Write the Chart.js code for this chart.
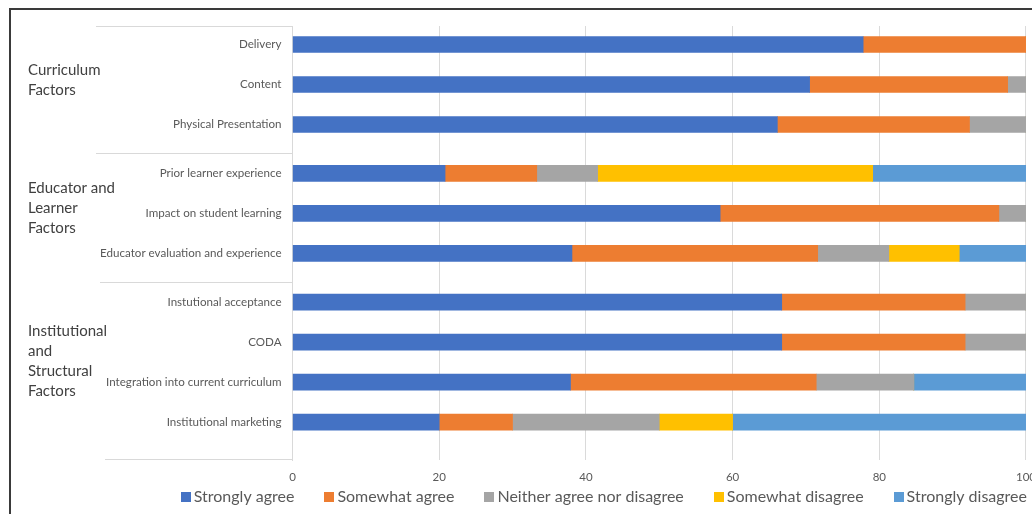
<!DOCTYPE html>
<html>
<head>
<meta charset="utf-8">
<script src="https://cdn.jsdelivr.net/npm/chart.js@4.4.1/dist/chart.umd.min.js"></script>
<style>
  html, body { margin: 0; padding: 0; background: #ffffff; overflow: hidden; width: 1032px; height: 514px; }
  #c { display: block; }
</style>
</head>
<body>
<canvas id="c" width="1046" height="514"></canvas>
<script>
// Factor groups (line breaks mark wrapped label lines) and how many items each holds
const groups = ['Curriculum\nFactors', 'Educator and\nLearner\nFactors', 'Institutional\nand\nStructural\nFactors'];
const groupSizes = [3, 3, 4];

// Survey items, top to bottom
const categories = [
  'Delivery',
  'Content',
  'Physical Presentation',
  'Prior learner experience',
  'Impact on student learning',
  'Educator evaluation and experience',
  'Instutional acceptance',
  'CODA',
  'Integration into current curriculum',
  'Institutional marketing'
];

// Response shares (%) per item
const seriesNames = ['Strongly agree', 'Somewhat agree', 'Neither agree nor disagree', 'Somewhat disagree', 'Strongly disagree'];
const stronglyAgree    = [77.8, 70.5, 66.1, 20.8, 58.3, 38.1, 66.7, 66.7, 37.9, 20.0];
const somewhatAgree    = [22.2, 27.0, 26.2, 12.5, 38.0, 33.5, 25.0, 25.0, 33.5, 10.0];
const neitherAgree     = [ 0.0,  2.5,  7.7,  8.3,  3.7,  9.7,  8.3,  8.3, 13.3, 20.0];
const somewhatDisagree = [ 0.0,  0.0,  0.0, 37.5,  0.0,  9.6,  0.0,  0.0,  0.0, 10.0];
const stronglyDisagree = [ 0.0,  0.0,  0.0, 20.9,  0.0,  9.1,  0.0,  0.0, 15.3, 40.0];

const xTickValues = [0, 20, 40, 60, 80, 100];

const seriesValues = [stronglyAgree, somewhatAgree, neitherAgree, somewhatDisagree, stronglyDisagree];
const seriesColors = ['#4472C4', '#ED7D31', '#A5A5A5', '#FFC000', '#5B9BD5'];

// Row positions on the item axis: one unit per item, plus a small gap between groups
const GROUP_GAP = 0.22;
const rowPos = [];
const groupRows = [];
(function () {
  let i = 0;
  groupSizes.forEach((n, g) => {
    const rows = [];
    for (let k = 0; k < n; k++) {
      const p = i + g * GROUP_GAP;
      rowPos.push(p);
      rows.push(p);
      i++;
    }
    groupRows.push(rows);
  });
})();

const FONT = 'Lato, "Open Sans", sans-serif';

// Left-hand group labels, separators and the outer frame
const groupPanel = {
  id: 'groupPanel',
  afterDraw(chart) {
    const { ctx, chartArea } = chart;
    const y = chart.scales.y;
    const axisX = chartArea.left;
    ctx.save();

    // band edges of each group: chart top, the in-between separators, chart bottom
    const edges = [chartArea.top];
    groupRows.forEach((rows, g) => {
      if (g < groupRows.length - 1) {
        edges.push(Math.round(y.getPixelForValue(rows[rows.length - 1] + 0.5 + GROUP_GAP)));
      }
    });
    edges.push(chartArea.bottom - 1);

    // separators
    ctx.strokeStyle = '#d9d9d9';
    ctx.lineWidth = 1;
    const sepStart = [96, 96, 100, 105];
    edges.forEach((py, k) => {
      ctx.beginPath();
      ctx.moveTo(sepStart[k], Math.round(py) + 0.5);
      ctx.lineTo(axisX, Math.round(py) + 0.5);
      ctx.stroke();
    });

    // group titles, set a little above the middle of their band
    ctx.fillStyle = '#404040';
    ctx.font = '15px ' + FONT;
    ctx.textAlign = 'left';
    ctx.textBaseline = 'middle';
    const lineH = 20;
    groups.forEach((name, g) => {
      const mid = (edges[g] + edges[g + 1]) / 2 - 9;
      const lines = name.split('\n');
      const top = mid - (lines.length - 1) * lineH / 2;
      lines.forEach((t, k) => ctx.fillText(t, 28, top + k * lineH));
    });

    // outer frame (left and top edges)
    ctx.strokeStyle = '#3a3a3a';
    ctx.lineWidth = 2;
    ctx.beginPath();
    ctx.moveTo(10, chart.height);
    ctx.lineTo(10, 9);
    ctx.lineTo(chart.width, 9);
    ctx.stroke();
    ctx.restore();
  }
};

// Single-row legend under the axis
const legendRow = {
  id: 'legendRow',
  afterDraw(chart) {
    const { ctx, chartArea } = chart;
    const box = 10, boxGap = 3, itemGap = 30;
    const cy = 497;
    ctx.save();
    ctx.font = '16px ' + FONT;
    ctx.textBaseline = 'middle';
    ctx.textAlign = 'left';
    const sets = chart.data.datasets;
    const widths = sets.map(d => ctx.measureText(d.label).width);
    const total = widths.reduce((a, w) => a + box + boxGap + w, 0) + itemGap * (sets.length - 1);
    let x = chartArea.right + 1 - total;
    sets.forEach((d, i) => {
      ctx.fillStyle = d.backgroundColor;
      ctx.fillRect(Math.round(x), cy - box / 2, box, box);
      ctx.fillStyle = '#595959';
      ctx.fillText(d.label, x + box + boxGap, cy);
      x += box + boxGap + widths[i] + itemGap;
    });
    ctx.restore();
  }
};

new Chart(document.getElementById('c'), {
  type: 'bar',
  data: {
    datasets: seriesNames.map((name, s) => ({
      label: name,
      data: seriesValues[s].map((v, i) => ({ x: v, y: rowPos[i] })),
      backgroundColor: seriesColors[s],
      borderWidth: 0,
      barThickness: 16
    }))
  },
  options: {
    indexAxis: 'y',
    responsive: false,
    animation: false,
    layout: { padding: { top: 26, right: 0, bottom: 0, left: 0 } },
    plugins: {
      legend: { display: false },
      tooltip: { enabled: false }
    },
    scales: {
      x: {
        type: 'linear',
        position: 'bottom',
        stacked: true,
        min: 0,
        max: 100,
        afterBuildTicks: s => { s.ticks = xTickValues.map(v => ({ value: v })); },
        ticks: { color: '#595959', font: { family: FONT, size: 11.5 }, padding: 10 },
        grid: { color: '#dadada', lineWidth: 1, drawTicks: false },
        border: { display: false },
        afterFit: s => { s.height = 54; }
      },
      y: {
        type: 'linear',
        reverse: true,
        stacked: true,
        offset: false,
        min: -0.4625,
        max: 10.3875,
        afterBuildTicks: s => { s.ticks = rowPos.map(v => ({ value: v })); },
        ticks: {
          autoSkip: false,
          color: '#595959',
          font: { family: FONT, size: 11.6 },
          padding: 11,
          callback: v => categories[rowPos.findIndex(p => Math.abs(p - v) < 1e-6)]
        },
        grid: { display: false, drawTicks: false, offset: false },
        border: { display: true, color: '#d9d9d9', width: 1 },
        afterFit: s => { s.width = 292.5; }
      }
    }
  },
  plugins: [groupPanel, legendRow]
});
</script>
</body>
</html>
